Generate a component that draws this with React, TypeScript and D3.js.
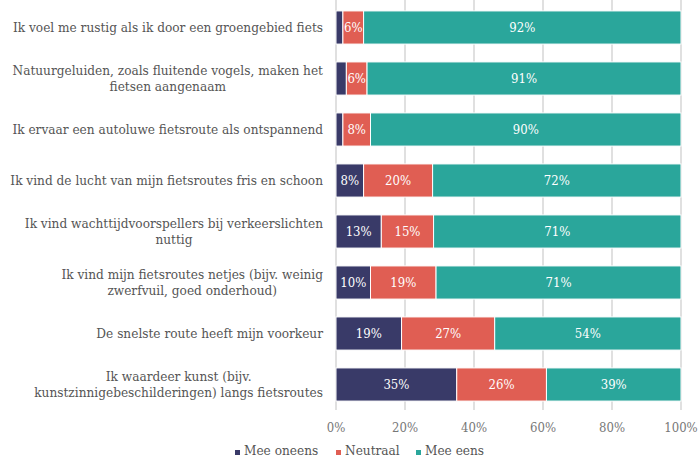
import React, { useEffect, useRef } from "react";
import * as d3 from "d3";

const categories = [
  ["Ik voel me rustig als ik door een groengebied fiets"],
  ["Natuurgeluiden, zoals fluitende vogels, maken het", "fietsen aangenaam"],
  ["Ik ervaar een autoluwe fietsroute als ontspannend"],
  ["Ik vind de lucht van mijn fietsroutes fris en schoon"],
  ["Ik vind wachttijdvoorspellers bij verkeerslichten", "nuttig"],
  ["Ik vind mijn fietsroutes netjes (bijv. weinig", "zwerfvuil, goed onderhoud)"],
  ["De snelste route heeft mijn voorkeur"],
  ["Ik waardeer kunst (bijv.", "kunstzinnigebeschilderingen) langs fietsroutes"],
];

const seriesNames = ["Mee oneens", "Neutraal", "Mee eens"];
const meeOneens = [2, 3, 2, 8, 13, 10, 19, 35];
const neutraal = [6, 6, 8, 20, 15, 19, 27, 26];
const meeEens = [92, 91, 90, 72, 71, 71, 54, 39];
const colors = ["#393a68", "#e05e53", "#2aa69b"];
const tickValues = [0, 20, 40, 60, 80, 100];

const FONT = "'DejaVu Serif Condensed', 'DejaVu Serif', serif";

const App = () => {
  const ref = useRef<SVGSVGElement>(null);

  useEffect(() => {
    document.body.style.margin = "0";
    const svg = d3.select(ref.current);
    svg.selectAll("*").remove();

    const x = d3.scaleLinear().domain([0, 100]).range([336, 681]);
    const y = d3
      .scaleBand<number>()
      .domain(d3.range(categories.length))
      .range([2, 410])
      .paddingInner(0.35)
      .paddingOuter(0.175);

    // gridlines
    svg
      .append("g")
      .selectAll("line")
      .data(tickValues)
      .join("line")
      .attr("x1", (d) => x(d))
      .attr("x2", (d) => x(d))
      .attr("y1", 0)
      .attr("y2", 410)
      .attr("stroke", "#e0e0e0")
      .attr("stroke-width", 2);

    // stacked bars (percent)
    const rows = categories.map((c, i) => {
      const vals = [meeOneens[i], neutraal[i], meeEens[i]];
      const total = d3.sum(vals);
      let acc = 0;
      return vals.map((v, k) => {
        const s = { i, k, v, x0: (acc / total) * 100, x1: ((acc + v) / total) * 100 };
        acc += v;
        return s;
      });
    });
    const segs = rows.flat();

    svg
      .append("g")
      .selectAll("rect")
      .data(segs)
      .join("rect")
      .attr("x", (d) => x(d.x0))
      .attr("width", (d) => x(d.x1) - x(d.x0))
      .attr("y", (d) => y(d.i)!)
      .attr("height", y.bandwidth())
      .attr("fill", (d) => colors[d.k])
      .attr("stroke", "#fff")
      .attr("stroke-width", 1);

    svg
      .append("g")
      .selectAll("text")
      .data(segs.filter((d) => d.v >= 5))
      .join("text")
      .attr("x", (d) => (x(d.x0) + x(d.x1)) / 2)
      .attr("y", (d) => y(d.i)! + y.bandwidth() / 2)
      .attr("dy", "0.35em")
      .attr("text-anchor", "middle")
      .attr("fill", "#fff")
      .attr("font-family", FONT)
      .attr("font-size", 13)
      .text((d) => d.v + "%");

    // category labels
    const labelRight = 323;
    const lineH = 16.5;
    categories.forEach((lines, i) => {
      const g = svg.append("g");
      const cy = y(i)! + y.bandwidth() / 2;
      const texts = g
        .selectAll("text")
        .data(lines)
        .join("text")
        .attr("y", (_, j) => cy + (j - (lines.length - 1) / 2) * lineH)
        .attr("dy", "0.35em")
        .attr("text-anchor", "middle")
        .attr("fill", "#555")
        .attr("font-family", FONT)
        .attr("font-size", 13.5)
        .text((d) => d);
      let maxW = 0;
      texts.each(function () {
        maxW = Math.max(maxW, (this as SVGTextElement).getComputedTextLength());
      });
      texts.attr("x", labelRight - maxW / 2);
    });

    // x axis labels
    svg
      .append("g")
      .selectAll("text")
      .data(tickValues)
      .join("text")
      .attr("x", (d) => x(d))
      .attr("y", 432)
      .attr("text-anchor", "middle")
      .attr("fill", "#777")
      .attr("font-family", FONT)
      .attr("font-size", 13)
      .text((d) => d + "%");

    // legend
    const legendX = [235, 336, 416];
    const lg = svg
      .append("g")
      .selectAll("g")
      .data(seriesNames)
      .join("g")
      .attr("transform", (_, i) => `translate(${legendX[i]},455)`);
    lg.append("rect")
      .attr("x", 0)
      .attr("y", -5)
      .attr("width", 5)
      .attr("height", 5)
      .attr("fill", (_, i) => colors[i]);
    lg.append("text")
      .attr("x", 9)
      .attr("y", 0)
      .attr("fill", "#555")
      .attr("font-family", FONT)
      .attr("font-size", 13.5)
      .text((d) => d);
  }, []);

  return <svg ref={ref} width={699} height={464} style={{ display: "block", background: "#fff" }} />;
};

export default App;
